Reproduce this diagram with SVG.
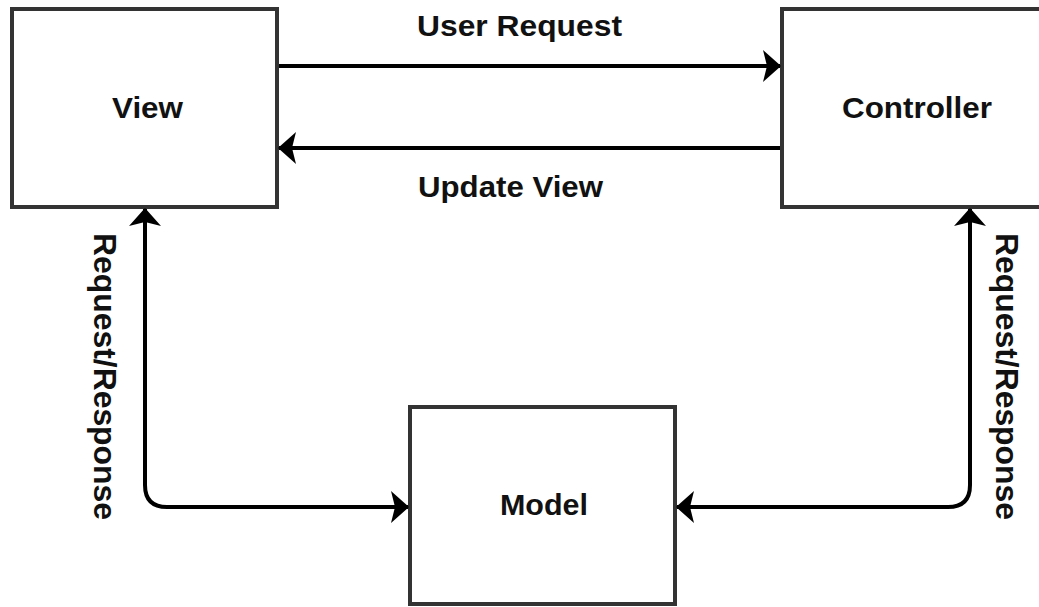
<svg xmlns="http://www.w3.org/2000/svg" width="1039" height="607" viewBox="0 0 1039 607">
<style>
.box{fill:#fff;stroke:#333;stroke-width:4}
.lbl{font-family:"Liberation Sans",Arial,sans-serif;font-weight:bold;font-size:30px;fill:#111}
.rl{font-size:32px}
.edge{fill:none;stroke:#000;stroke-width:4}
</style>
<defs>
<marker id="arr" viewBox="0 0 18 32" refX="17" refY="16" markerWidth="18" markerHeight="32" markerUnits="userSpaceOnUse" orient="auto-start-reverse">
<path d="M0,0 L18,16 L0,32 L4,16 Z" fill="#000"/>
</marker>
</defs>
<rect width="1039" height="607" fill="#fff"/>
<g id="view">
<rect class="box" x="12" y="9" width="265" height="198"/>
<text class="lbl" x="112" y="118" textLength="71" lengthAdjust="spacingAndGlyphs">View</text>
</g>
<g id="controller">
<rect class="box" x="782" y="9" width="270" height="198"/>
<text class="lbl" x="842" y="118" textLength="150" lengthAdjust="spacingAndGlyphs">Controller</text>
</g>
<g id="model">
<rect class="box" x="410" y="407" width="265" height="197"/>
<text class="lbl" x="500" y="515" textLength="88" lengthAdjust="spacingAndGlyphs">Model</text>
</g>
<g id="connectors">
<path class="edge" d="M279,66 H780" marker-end="url(#arr)"/>
<path class="edge" d="M780,148 H279" marker-end="url(#arr)"/>
<path class="edge" d="M408,507 H167 Q145,507 145,485 V209" marker-start="url(#arr)" marker-end="url(#arr)"/>
<path class="edge" d="M677,507 H948 Q970,507 970,485 V209" marker-start="url(#arr)" marker-end="url(#arr)"/>
<text class="lbl" x="417" y="36" textLength="205" lengthAdjust="spacingAndGlyphs">User Request</text>
<text class="lbl" x="418" y="197" textLength="185" lengthAdjust="spacingAndGlyphs">Update View</text>
<text class="lbl rl" transform="translate(94,233) rotate(90)" textLength="287" lengthAdjust="spacingAndGlyphs">Request/Response</text>
<text class="lbl rl" transform="translate(996,233) rotate(90)" textLength="287" lengthAdjust="spacingAndGlyphs">Request/Response</text>
</g>
</svg>
